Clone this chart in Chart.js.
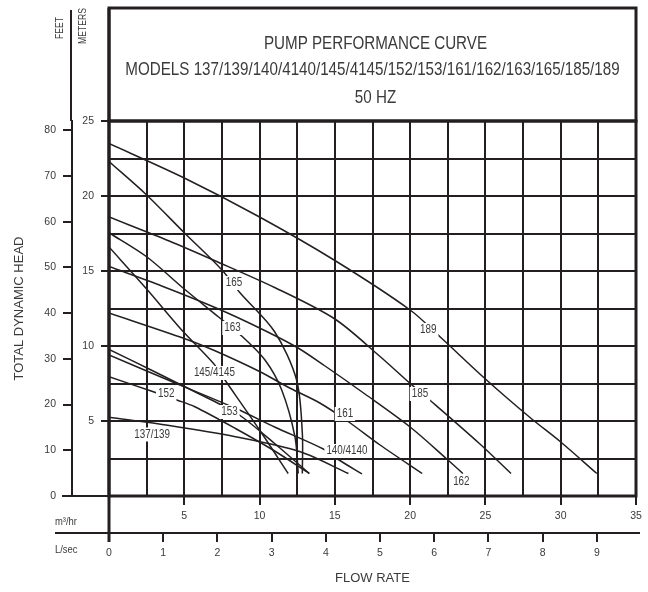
<!DOCTYPE html>
<html>
<head>
<meta charset="utf-8">
<script src="https://cdn.jsdelivr.net/npm/chart.js@4.4.1/dist/chart.umd.min.js"></script>
<style>
  html, body { margin: 0; padding: 0; background: #fff; }
  #wrap { width: 648px; height: 592px; }
</style>
</head>
<body>
<div id="wrap"><canvas id="chart" width="648" height="592"></canvas></div>
<script>
const TITLE_LINES = ['PUMP PERFORMANCE CURVE', 'MODELS 137/139/140/4140/145/4145/152/153/161/162/163/165/185/189', '50 HZ'];

// axis ticks
const M3_LABELS = [5, 10, 15, 20, 25, 30, 35];
const LSEC_LABELS = [0, 1, 2, 3, 4, 5, 6, 7, 8, 9];
const FEET_LABELS = [0, 10, 20, 30, 40, 50, 60, 70, 80];
const METER_LABELS = [5, 10, 15, 20, 25];
const GRID_Q = [0, 2.5, 5, 7.5, 10, 12.5, 15, 17.5, 20, 22.5, 25, 27.5, 30, 32.5, 35];
const GRID_H = [0, 2.5, 5, 7.5, 10, 12.5, 15, 17.5, 20, 22.5, 25];
const M3_PER_LSEC = 3.6;
const M_PER_FT = 0.3048;

// curves: flow (m3/hr) and head (m)
const Q_189 = [0, 5, 10, 15, 20, 22, 25, 28, 30, 32.4];
const H_189 = [23.5, 21.2, 18.6, 15.7, 12.4, 10.6, 7.8, 5.2, 3.6, 1.5];
const Q_185 = [0, 4, 7, 11, 15, 18, 20, 21.3, 24.6, 26.7];
const H_185 = [18.6, 17.0, 15.7, 13.9, 11.8, 9.3, 7.5, 6.4, 3.5, 1.5];
const Q_165 = [0, 2.5, 5, 7.5, 8.7, 11.0, 12.46, 12.84, 12.84];
const H_165 = [22.3, 20.07, 17.55, 15.07, 13.55, 10.95, 7.73, 4.18, 1.5];
const Q_163 = [0, 2.5, 5, 7.26, 8.81, 10.36, 11.47, 12.35, 12.57];
const H_163 = [17.55, 15.95, 13.8, 11.95, 10.67, 9.07, 7.07, 3.95, 1.5];
const Q_162 = [0, 3.5, 7.2, 10, 12.5, 14.3, 17, 20, 22.4, 23.5];
const H_162 = [15.3, 14.0, 12.5, 11.2, 9.9, 8.7, 6.8, 4.6, 2.5, 1.5];
const Q_161 = [0, 5, 7, 10, 12, 14, 15.9, 18, 20.8];
const H_161 = [12.2, 10.5, 9.7, 8.3, 7.2, 6.2, 4.95, 3.4, 1.5];
const Q_145 = [0, 2.5, 4.83, 6.93, 7.7, 10, 11.9];
const H_145 = [16.6, 13.8, 11.07, 8.85, 7.73, 4.4, 1.5];
const Q_153 = [0, 3, 6, 7.4, 8.8, 11, 13.3];
const H_153 = [9.78, 8.3, 6.8, 6.1, 5.3, 3.5, 1.5];
const Q_152 = [0, 2.8, 4.5, 5.7, 8.4, 11, 13.3];
const H_152 = [7.95, 7.0, 6.4, 5.95, 4.5, 3.0, 1.5];
const Q_140 = [0, 4, 8.4, 11, 14.3, 15.2, 16.8];
const H_140 = [9.4, 7.7, 5.85, 4.6, 3.1, 2.45, 1.47];
const Q_137 = [0, 4, 8.4, 12.7, 15.9];
const H_137 = [5.25, 4.7, 3.95, 2.95, 1.5];

// curve labels
const LABEL_TEXT = ['189', '185', '165', '163', '162', '161', '145/4145', '153', '152', '140/4140', '137/139'];
const LABEL_Q = [21.2, 20.65, 8.3, 8.2, 23.4, 15.67, 7.0, 8.0, 3.8, 15.8, 2.86];
const LABEL_H = [11.07, 6.8, 14.2, 11.2, 0.93, 5.47, 8.2, 5.6, 6.8, 3.0, 4.1];

const INK = '#231f20';
const TEXT = '#3a3a3a';

function hasFont(name) {
  const c = document.createElement('canvas').getContext('2d');
  c.font = '20px monospace';
  const a = c.measureText('MODELS 137/139').width;
  c.font = '20px "' + name + '", monospace';
  const b = c.measureText('MODELS 137/139').width;
  return a !== b;
}
const NARROW = hasFont('Liberation Sans Narrow');
const FONT = NARROW ? '"Liberation Sans Narrow", "Liberation Sans", Arial, sans-serif' : '"Liberation Sans", Arial, sans-serif';
const SQUEEZE = NARROW ? 1 : 0.82;
const TICK_SIZE = NARROW ? 12 : 10.5;
Chart.defaults.font.family = FONT;
Chart.defaults.color = TEXT;

function text(ctx, s, x, y, size, rot, align) {
  ctx.save();
  ctx.translate(x, y);
  if (rot) ctx.rotate(rot);
  ctx.scale(SQUEEZE, 1);
  ctx.font = size + 'px ' + FONT;
  ctx.fillStyle = TEXT;
  ctx.textAlign = align || 'center';
  ctx.textBaseline = 'middle';
  ctx.fillText(s, 0, 0);
  ctx.restore();
}

const curveLabels = {
  id: 'curveLabels',
  afterDatasetsDraw(chart) {
    const ctx = chart.ctx, sx = chart.scales.x, sy = chart.scales.y;
    LABEL_TEXT.forEach((t, i) => {
      const x = sx.getPixelForValue(LABEL_Q[i]);
      const y = sy.getPixelForValue(LABEL_H[i]);
      ctx.save();
      ctx.font = '12px ' + FONT;
      const w = ctx.measureText(t).width * SQUEEZE;
      ctx.fillStyle = '#fff';
      ctx.fillRect(x - w / 2 - 2, y - 7, w + 4, 14);
      ctx.restore();
      text(ctx, t, x, y, 12);
    });
  }
};

const decor = {
  id: 'decor',
  afterDraw(chart) {
    const ctx = chart.ctx;
    const a = chart.chartArea;
    const feet = chart.scales.yFeet, lsec = chart.scales.x2;
    ctx.save();
    ctx.strokeStyle = INK;
    ctx.lineWidth = 3;
    ctx.strokeRect(a.left, 8, a.right - a.left, a.top - 8);
    ctx.strokeRect(a.left, a.top, a.right - a.left, a.bottom - a.top);
    ctx.beginPath();
    ctx.moveTo(a.left, 8); ctx.lineTo(a.left, lsec.top + 9);
    ctx.stroke();
    ctx.lineWidth = 2;
    ctx.beginPath();
    ctx.moveTo(feet.right - 1, 10); ctx.lineTo(feet.right - 1, a.top);
    ctx.moveTo(62, a.bottom); ctx.lineTo(a.left, a.bottom);
    ctx.moveTo(55, lsec.top); ctx.lineTo(a.left, lsec.top);
    ctx.moveTo(a.right, lsec.top); ctx.lineTo(a.right + 4, lsec.top);
    ctx.stroke();
    ctx.restore();
    const cx = (a.left + a.right) / 2;
    text(ctx, TITLE_LINES[0], cx + 3, 44, 18.5);
    text(ctx, TITLE_LINES[1], cx, 70, 18.5);
    text(ctx, TITLE_LINES[2], cx + 3, 98, 18.5);
    text(ctx, 'FEET', 60, 28, 10.5, -Math.PI / 2);
    text(ctx, 'METERS', 83, 26, 10.5, -Math.PI / 2);
    text(ctx, 'm\u00b3/hr', 55, 522, 11.5, 0, 'left');
    text(ctx, 'L/sec', 55, 550, 11.5, 0, 'left');
  }
};

const curves = [[Q_189, H_189], [Q_185, H_185], [Q_165, H_165], [Q_163, H_163], [Q_162, H_162],
  [Q_161, H_161], [Q_145, H_145], [Q_153, H_153], [Q_152, H_152], [Q_140, H_140], [Q_137, H_137]];

const onlyMarked = list => c => (c.tick && list.includes(c.tick.value)) ? INK : 'rgba(0,0,0,0)';

new Chart(document.getElementById('chart'), {
  type: 'scatter',
  data: {
    datasets: curves.map((c, i) => ({
      label: LABEL_TEXT[i],
      data: c[0].map((q, j) => ({ x: q, y: c[1][j] })),
      showLine: true,
      pointRadius: 0,
      borderColor: INK,
      borderWidth: 1.5,
      tension: 0.3
    }))
  },
  options: {
    responsive: false,
    animation: false,
    devicePixelRatio: 1,
    layout: { padding: { top: 121, right: 12, left: 0, bottom: 0 } },
    plugins: { legend: { display: false }, tooltip: { enabled: false } },
    scales: {
      x: {
        type: 'linear', position: 'bottom', min: 0, max: 35, weight: 0,
        afterBuildTicks: s => { s.ticks = GRID_Q.map(v => ({ value: v })); },
        afterFit: s => { s.height = 37; },
        grid: { color: INK, lineWidth: 2, tickLength: 9, tickColor: onlyMarked(M3_LABELS), tickWidth: 2 },
        border: { display: false },
        ticks: { autoSkip: false, maxRotation: 0, padding: 5, font: { size: TICK_SIZE },
          callback: v => M3_LABELS.includes(v) ? String(v) : '' }
      },
      x2: {
        type: 'linear', position: 'bottom', min: 0, max: 35 / M3_PER_LSEC, weight: 1,
        afterBuildTicks: s => { s.ticks = LSEC_LABELS.map(v => ({ value: v })); },
        afterFit: s => { s.height = 59; },
        grid: { drawOnChartArea: false, color: INK, lineWidth: 2, tickLength: 9 },
        border: { display: true, color: INK, width: 2 },
        ticks: { autoSkip: false, maxRotation: 0, padding: 5, font: { size: TICK_SIZE } },
        title: { display: true, text: 'FLOW RATE', font: { size: 13 }, padding: { top: 0, bottom: 6 } }
      },
      y: {
        type: 'linear', position: 'left', min: 0, max: 25, weight: 0,
        afterBuildTicks: s => { s.ticks = GRID_H.map(v => ({ value: v })); },
        afterFit: s => { s.width = 37; },
        grid: { color: INK, lineWidth: 2, tickLength: 8, tickColor: onlyMarked(METER_LABELS), tickWidth: 2 },
        border: { display: false },
        ticks: { autoSkip: false, padding: 7, font: { size: TICK_SIZE },
          callback: v => METER_LABELS.includes(v) ? String(v) : '' }
      },
      yFeet: {
        type: 'linear', position: 'left', min: 0, max: 25 / M_PER_FT, weight: 1,
        afterBuildTicks: s => { s.ticks = FEET_LABELS.map(v => ({ value: v })); },
        afterFit: s => { s.width = 72; },
        grid: { drawOnChartArea: false, color: INK, lineWidth: 2, tickLength: 9 },
        border: { display: true, color: INK, width: 2 },
        ticks: { autoSkip: false, padding: 7, font: { size: TICK_SIZE } },
        title: { display: true, text: 'TOTAL DYNAMIC HEAD', font: { size: 13 }, padding: { top: 12, bottom: 0 } }
      }
    }
  },
  plugins: [curveLabels, decor]
});
</script>
</body>
</html>
